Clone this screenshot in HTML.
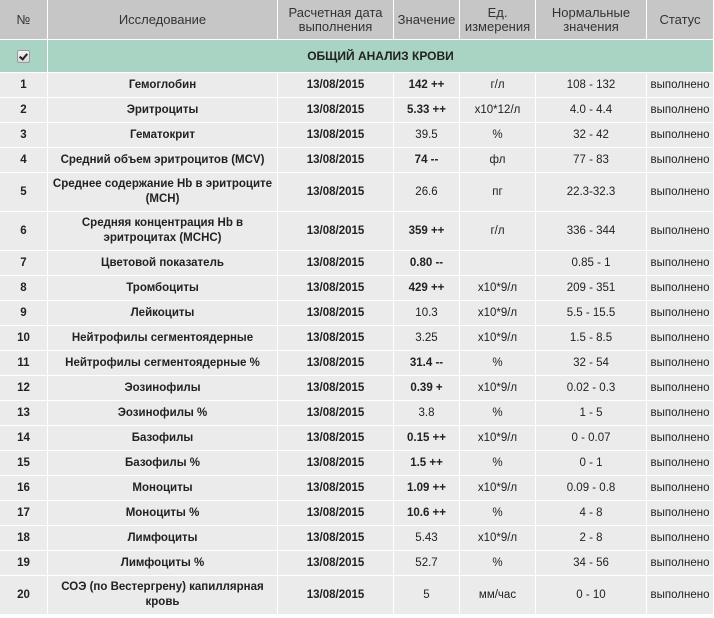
<!DOCTYPE html>
<html><head><meta charset="utf-8">
<style>
html,body{margin:0;padding:0;background:#fff;}
body{width:714px;height:618px;overflow:hidden;font-family:"Liberation Sans",Arial,sans-serif;}
.g{display:grid;grid-template-columns:47px 229px 115px 65px 75px 110px 66px;column-gap:1px;row-gap:1px;
grid-template-rows:39px 32px 24px 24px 24px 24px 38px 38px 24px 24px 24px 24px 24px 24px 24px 24px 24px 24px 24px 24px 24px 38px;background:#fff;}
.g>div{display:flex;align-items:center;justify-content:center;text-align:center;background:#ebebeb;color:#222;font-size:11.5px;line-height:15px;}
.g>div.h{background:#c6c6c6;color:#333;font-size:13px;line-height:13.5px;}
.g>div.gr{background:#a9d3c2;}
.g>div.gt{background:#a9d3c2;grid-column:2 / 8;font-weight:bold;font-size:12px;color:#222;}
.b{font-weight:bold;}
.cb{width:11px;height:11px;border:1px solid #9a9a9a;border-radius:2px;background:linear-gradient(#f4f4f4,#d6d6d6);position:relative;}
.cb:after{content:"";position:absolute;left:3px;top:1px;width:3px;height:6px;border:solid #222;border-width:0 2px 2px 0;transform:rotate(40deg);}
.st{color:#333;}
</style></head><body>
<div class="g">
<div class="h">№</div><div class="h">Исследование</div><div class="h">Расчетная дата<br>выполнения</div><div class="h">Значение</div><div class="h">Ед.<br>измерения</div><div class="h">Нормальные<br>значения</div><div class="h">Статус</div>
<div class="gr"><span class="cb"></span></div><div class="gt">ОБЩИЙ АНАЛИЗ КРОВИ</div>

<div class="b">1</div><div class="b">Гемоглобин</div><div class="b">13/08/2015</div><div class="b">142 ++</div><div>г/л</div><div>108 - 132</div><div class="st">выполнено</div>
<div class="b">2</div><div class="b">Эритроциты</div><div class="b">13/08/2015</div><div class="b">5.33 ++</div><div>x10*12/л</div><div>4.0 - 4.4</div><div class="st">выполнено</div>
<div class="b">3</div><div class="b">Гематокрит</div><div class="b">13/08/2015</div><div>39.5</div><div>%</div><div>32 - 42</div><div class="st">выполнено</div>
<div class="b">4</div><div class="b">Средний объем эритроцитов (MCV)</div><div class="b">13/08/2015</div><div class="b">74 --</div><div>фл</div><div>77 - 83</div><div class="st">выполнено</div>
<div class="b">5</div><div class="b">Среднее содержание Hb в эритроците<br>(MCH)</div><div class="b">13/08/2015</div><div>26.6</div><div>пг</div><div>22.3-32.3</div><div class="st">выполнено</div>
<div class="b">6</div><div class="b">Средняя концентрация Hb в<br>эритроцитах (MCHC)</div><div class="b">13/08/2015</div><div class="b">359 ++</div><div>г/л</div><div>336 - 344</div><div class="st">выполнено</div>
<div class="b">7</div><div class="b">Цветовой показатель</div><div class="b">13/08/2015</div><div class="b">0.80 --</div><div></div><div>0.85 - 1</div><div class="st">выполнено</div>
<div class="b">8</div><div class="b">Тромбоциты</div><div class="b">13/08/2015</div><div class="b">429 ++</div><div>x10*9/л</div><div>209 - 351</div><div class="st">выполнено</div>
<div class="b">9</div><div class="b">Лейкоциты</div><div class="b">13/08/2015</div><div>10.3</div><div>x10*9/л</div><div>5.5 - 15.5</div><div class="st">выполнено</div>
<div class="b">10</div><div class="b">Нейтрофилы сегментоядерные</div><div class="b">13/08/2015</div><div>3.25</div><div>x10*9/л</div><div>1.5 - 8.5</div><div class="st">выполнено</div>
<div class="b">11</div><div class="b">Нейтрофилы сегментоядерные %</div><div class="b">13/08/2015</div><div class="b">31.4 --</div><div>%</div><div>32 - 54</div><div class="st">выполнено</div>
<div class="b">12</div><div class="b">Эозинофилы</div><div class="b">13/08/2015</div><div class="b">0.39 +</div><div>x10*9/л</div><div>0.02 - 0.3</div><div class="st">выполнено</div>
<div class="b">13</div><div class="b">Эозинофилы %</div><div class="b">13/08/2015</div><div>3.8</div><div>%</div><div>1 - 5</div><div class="st">выполнено</div>
<div class="b">14</div><div class="b">Базофилы</div><div class="b">13/08/2015</div><div class="b">0.15 ++</div><div>x10*9/л</div><div>0 - 0.07</div><div class="st">выполнено</div>
<div class="b">15</div><div class="b">Базофилы %</div><div class="b">13/08/2015</div><div class="b">1.5 ++</div><div>%</div><div>0 - 1</div><div class="st">выполнено</div>
<div class="b">16</div><div class="b">Моноциты</div><div class="b">13/08/2015</div><div class="b">1.09 ++</div><div>x10*9/л</div><div>0.09 - 0.8</div><div class="st">выполнено</div>
<div class="b">17</div><div class="b">Моноциты %</div><div class="b">13/08/2015</div><div class="b">10.6 ++</div><div>%</div><div>4 - 8</div><div class="st">выполнено</div>
<div class="b">18</div><div class="b">Лимфоциты</div><div class="b">13/08/2015</div><div>5.43</div><div>x10*9/л</div><div>2 - 8</div><div class="st">выполнено</div>
<div class="b">19</div><div class="b">Лимфоциты %</div><div class="b">13/08/2015</div><div>52.7</div><div>%</div><div>34 - 56</div><div class="st">выполнено</div>
<div class="b">20</div><div class="b">СОЭ (по Вестергрену) капиллярная<br>кровь</div><div class="b">13/08/2015</div><div>5</div><div>мм/час</div><div>0 - 10</div><div class="st">выполнено</div>
</div>
</body></html>
